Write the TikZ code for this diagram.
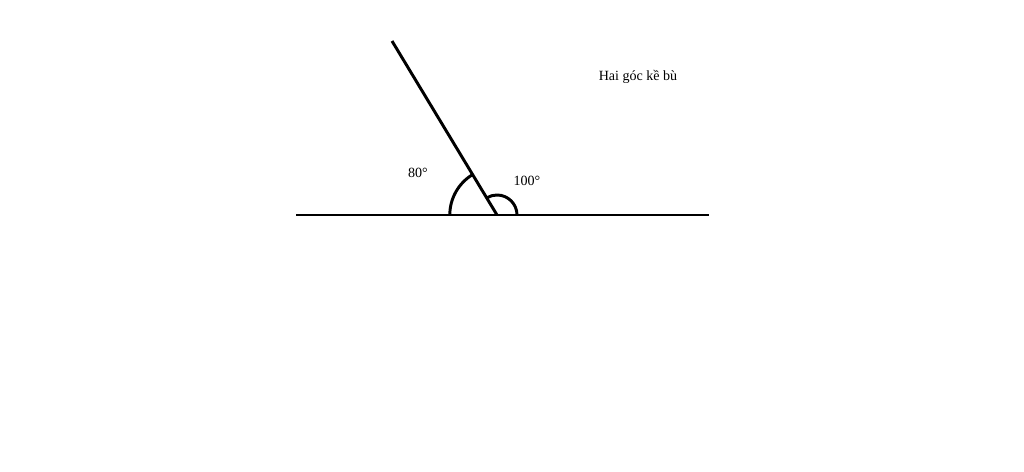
\documentclass[tikz,border=0pt]{standalone}
\usepackage{fontspec}
\setmainfont{Liberation Serif}
\usetikzlibrary{calc}
\usetikzlibrary{quotes,angles}

\begin{document}
\begin{tikzpicture}[x=0.025cm,y=-0.025cm]
\useasboundingbox (0,0) rectangle (1024,472);
\coordinate (O) at (497,215);
\coordinate (left) at (296,215);
\coordinate (right) at (709,215);
\coordinate (top) at (392,41);
\draw[line width=2.1pt] (left) -- (right);
\draw[line width=2.1pt] (O) -- (top);
\draw pic[draw,line width=2.1pt,angle radius=1.18cm] {angle=top--O--left};
\draw pic[draw,line width=2.1pt,angle radius=0.5cm] {angle=right--O--top};
\node (a80) at (418,173) {\fontsize{10}{12}\selectfont 80°};
\node (a100) at (527,181) {\fontsize{10}{12}\selectfont 100°};
\node (title) at (638,77) {\fontsize{10}{12}\selectfont Hai góc kề bù};
\end{tikzpicture}
\end{document}
